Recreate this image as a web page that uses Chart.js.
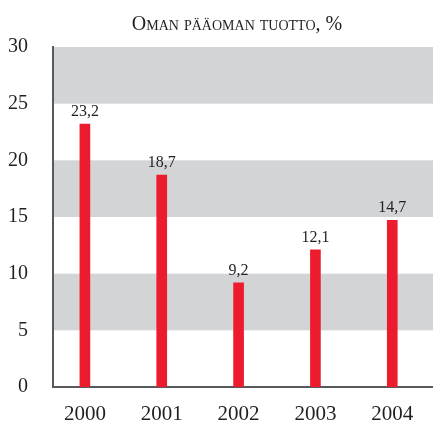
<!DOCTYPE html>
<html>
<head>
<meta charset="utf-8">
<script src="https://cdn.jsdelivr.net/npm/chart.js@4"></script>
<style>
  html, body { margin: 0; padding: 0; background: #fff; }
  #wrap { width: 433px; height: 421px; }
</style>
</head>
<body>
<div id="wrap"><canvas id="graph"></canvas></div>
<script>
const years = [2000, 2001, 2002, 2003, 2004];
const values = [23.2, 18.7, 9.2, 12.1, 14.7];
const yTicks = [0, 5, 10, 15, 20, 25, 30];
const shadedBands = [[5, 10], [15, 20], [25, 30]];
const titleText = 'Oman pääoman tuotto, %';

const serif = '"Liberation Serif", "DejaVu Serif", serif';
const ink = '#231f20';

// grey stripes behind the bars
const bandsPlugin = {
  id: 'bands',
  beforeDatasetsDraw(chart) {
    const { ctx, chartArea } = chart;
    const y = chart.scales.y;
    ctx.save();
    ctx.fillStyle = '#d3d4d6';
    shadedBands.forEach(([lo, hi]) => {
      const top = y.getPixelForValue(hi);
      const bottom = y.getPixelForValue(lo);
      ctx.fillRect(chartArea.left + 1, top, chartArea.right - chartArea.left, bottom - top);
    });
    ctx.restore();
  }
};

// value labels above bars, finnish decimal comma
const valueLabels = {
  id: 'valueLabels',
  afterDatasetsDraw(chart) {
    const { ctx } = chart;
    const meta = chart.getDatasetMeta(0);
    ctx.save();
    ctx.font = '16px ' + serif;
    ctx.fillStyle = ink;
    ctx.textAlign = 'center';
    ctx.textBaseline = 'alphabetic';
    meta.data.forEach((bar, i) => {
      const txt = values[i].toFixed(1).replace('.', ',');
      ctx.fillText(txt, bar.x, bar.y - 8);
    });
    ctx.restore();
  }
};

// small-caps title
const capsTitle = {
  id: 'capsTitle',
  afterDraw(chart) {
    const { ctx } = chart;
    ctx.save();
    ctx.font = '20px ' + serif;
    ctx.fontVariantCaps = 'small-caps';
    ctx.fillStyle = ink;
    ctx.textAlign = 'center';
    ctx.textBaseline = 'alphabetic';
    ctx.fillText(titleText, 237, 30);
    ctx.restore();
  }
};

const config = {
  type: 'bar',
  data: {
    datasets: [{
      data: years.map((yr, i) => ({ x: yr, y: values[i] })),
      backgroundColor: '#ec1c2e',
      borderWidth: 0,
      barThickness: 10
    }]
  },
  options: {
    responsive: true,
    maintainAspectRatio: false,
    animation: false,
    layout: { padding: { top: 47, left: 0, right: 0, bottom: 0 } },
    plugins: {
      legend: { display: false },
      tooltip: { enabled: false },
      title: { display: false }
    },
    scales: {
      x: {
        type: 'linear',
        offset: false,
        min: 1999.585,
        max: 2004.53,
        afterBuildTicks(scale) {
          scale.ticks = years.map(v => ({ value: v }));
        },
        afterFit(scale) { scale.height = 34; },
        grid: { display: false },
        border: { display: true, color: '#58595b', width: 2 },
        ticks: {
          color: ink,
          font: { family: serif, size: 21 },
          padding: 7,
          callback: v => String(v)
        }
      },
      y: {
        min: 0,
        max: 30,
        afterBuildTicks(scale) {
          scale.ticks = yTicks.map(v => ({ value: v }));
        },
        afterFit(scale) { scale.width = 53; },
        grid: { display: false },
        border: { display: true, color: '#58595b', width: 2 },
        ticks: {
          color: ink,
          font: { family: serif, size: 20 },
          padding: 17
        }
      }
    }
  },
  plugins: [bandsPlugin, valueLabels, capsTitle]
};

const myChart = new Chart(document.getElementById('graph'), config);
</script>
</body>
</html>
